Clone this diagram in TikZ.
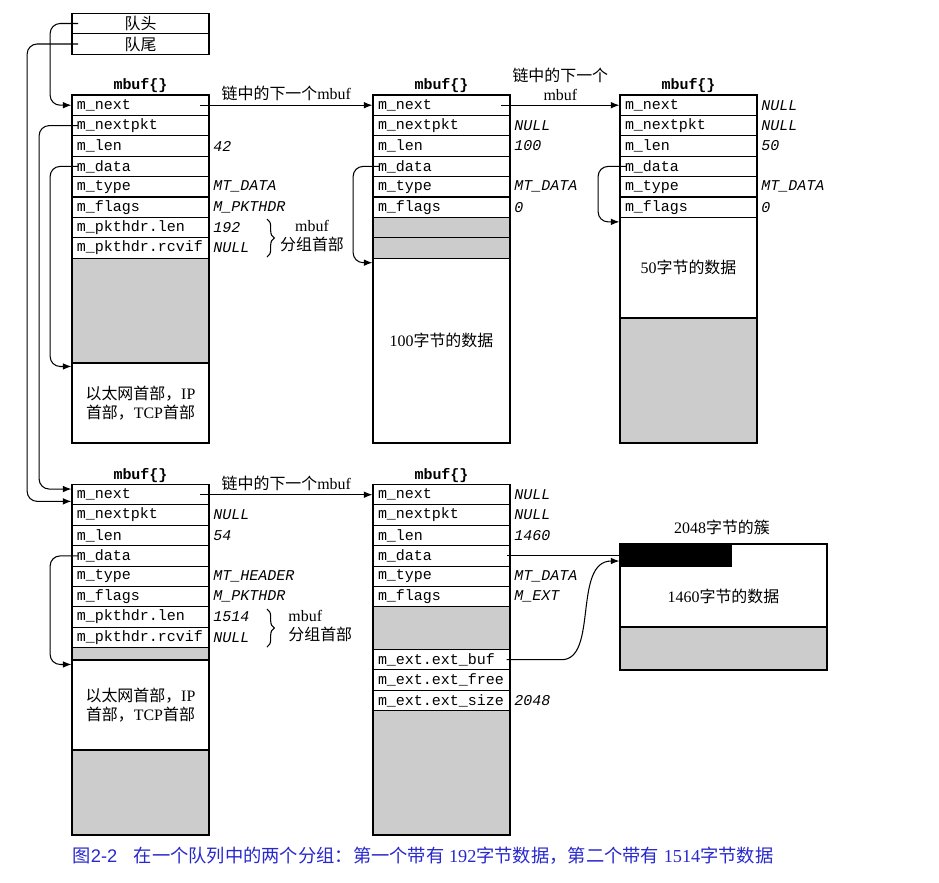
\documentclass[tikz,border=0pt]{standalone}
\usepackage{fontspec}
\setmainfont{Liberation Serif}
\setsansfont{Liberation Sans}
\setmonofont{Liberation Mono}
\newfontfamily\cjk{Noto Sans CJK SC}
\usetikzlibrary{arrows.meta,positioning,decorations.pathreplacing}
\definecolor{capblue}{RGB}{40,40,205}
\newcommand\zh[1]{{\cjk #1}}
\newcommand\fld{\ttfamily\fontsize{12.8}{14}\selectfont}

\begin{document}
\begin{tikzpicture}[x=0.03cm, y=-0.03cm, line width=0.9pt, font=\fontsize{13.6}{16.5}\selectfont]
    \tikzset{field/.style = {draw, minimum height=0.612cm, text width=3.81cm, inner xsep=0.15cm, inner ysep=0pt, align=left, font=\fld}}
    \tikzset{val/.style = {right=0pt of #1, inner xsep=0.1cm, font=\fld\itshape}}
    \tikzset{block/.style = {draw, minimum width=4.11cm, inner sep=0pt, align=center}}
    \tikzset{filler/.style = {block, fill=black!20}}
    \tikzset{structname/.style = {font=\fld\bfseries}}
    \tikzset{link/.style = {->, >={Latex[length=2.6mm, width=2mm]}, rounded corners=0.3cm}}
    \tikzset{hdrbrace/.style = {decorate, decoration={brace, amplitude=0.22cm}, line width=0.9pt}}
    \useasboundingbox (0,0) rectangle (939,882);

    \node[block, minimum height=0.615cm] (qh) at (140.5,23.5) {\zh{队头}};
    \node[block, minimum height=0.615cm] (qt) at (140.5,44) {\zh{队尾}};

    \node[structname] (ta) at (140.5,86) {mbuf\{\}};
    \node[field] (a1) at (140.5,105.2) {m\_next};
    \node[field] (a2) at (140.5,125.6) {m\_nextpkt};
    \node[field] (a3) at (140.5,146.0) {m\_len};
    \node[field] (a4) at (140.5,166.4) {m\_data};
    \node[field] (a5) at (140.5,186.8) {m\_type};
    \node[field] (a6) at (140.5,207.2) {m\_flags};
    \node[field] (a7) at (140.5,227.6) {m\_pkthdr.len};
    \node[field] (a8) at (140.5,248.0) {m\_pkthdr.rcvif};
    \node[filler, minimum height=3.144cm] (ag) at (140.5,310.6) {};
    \node[block, minimum height=2.4cm] (aw) at (140.5,403) {\zh{以太网首部，}IP\\\zh{首部，}TCP\zh{首部}};
    \node[val=a3] (a3v) {42};
    \node[val=a5] (a5v) {MT\_DATA};
    \node[val=a6] (a6v) {M\_PKTHDR};
    \node[val=a7] (a7v) {192};
    \node[val=a8] (a8v) {NULL};
    \draw[hdrbrace] (267,219) -- (267,257);
    \node[align=center] (ah) at (312,236) {mbuf\\\zh{分组首部}};

    \node[structname] (tb) at (441.5,86) {mbuf\{\}};
    \node[field] (b1) at (441.5,105.2) {m\_next};
    \node[field] (b2) at (441.5,125.6) {m\_nextpkt};
    \node[field] (b3) at (441.5,146.0) {m\_len};
    \node[field] (b4) at (441.5,166.4) {m\_data};
    \node[field] (b5) at (441.5,186.8) {m\_type};
    \node[field] (b6) at (441.5,207.2) {m\_flags};
    \node[field, fill=black!20] (b7) at (441.5,227.6) {};
    \node[field, fill=black!20] (b8) at (441.5,248.0) {};
    \node[block, minimum height=5.544cm] (bw) at (441.5,350.6) {};
    \node (bt) at (441.5,340) {100\zh{字节的数据}};
    \node[val=b2] (b2v) {NULL};
    \node[val=b3] (b3v) {100};
    \node[val=b5] (b5v) {MT\_DATA};
    \node[val=b6] (b6v) {0};

    \node[structname] (tc) at (688.5,86) {mbuf\{\}};
    \node[field] (c1) at (688.5,105.2) {m\_next};
    \node[field] (c2) at (688.5,125.6) {m\_nextpkt};
    \node[field] (c3) at (688.5,146.0) {m\_len};
    \node[field] (c4) at (688.5,166.4) {m\_data};
    \node[field] (c5) at (688.5,186.8) {m\_type};
    \node[field] (c6) at (688.5,207.2) {m\_flags};
    \node[block, minimum height=3.018cm] (cw) at (688.5,267.7) {50\zh{字节的数据}};
    \node[filler, minimum height=3.75cm] (cg) at (688.5,380.5) {};
    \node[val=c1] (c1v) {NULL};
    \node[val=c2] (c2v) {NULL};
    \node[val=c3] (c3v) {50};
    \node[val=c5] (c5v) {MT\_DATA};
    \node[val=c6] (c6v) {0};

    \node[structname] (td) at (140.5,476) {mbuf\{\}};
    \node[field] (d1) at (140.5,494.7) {m\_next};
    \node[field] (d2) at (140.5,515.1) {m\_nextpkt};
    \node[field] (d3) at (140.5,535.5) {m\_len};
    \node[field] (d4) at (140.5,555.9) {m\_data};
    \node[field] (d5) at (140.5,576.3) {m\_type};
    \node[field] (d6) at (140.5,596.7) {m\_flags};
    \node[field] (d7) at (140.5,617.1) {m\_pkthdr.len};
    \node[field] (d8) at (140.5,637.5) {m\_pkthdr.rcvif};
    \node[filler, minimum height=0.369cm] (dg) at (140.5,653.85) {};
    \node[block, minimum height=2.7cm] (dw) at (140.5,705) {\zh{以太网首部，}IP\\\zh{首部，}TCP\zh{首部}};
    \node[filler, minimum height=2.55cm] (dg2) at (140.5,792.5) {};
    \node[val=d2] (d2v) {NULL};
    \node[val=d3] (d3v) {54};
    \node[val=d5] (d5v) {MT\_HEADER};
    \node[val=d6] (d6v) {M\_PKTHDR};
    \node[val=d7] (d7v) {1514};
    \node[val=d8] (d8v) {NULL};
    \draw[hdrbrace] (267,609) -- (267,647);
    \node[align=left, anchor=west] (dh) at (284,626) {mbuf\\\zh{分组首部}};

    \node[structname] (te) at (441.5,476) {mbuf\{\}};
    \node[field] (e1) at (441.5,494.7) {m\_next};
    \node[field] (e2) at (441.5,515.1) {m\_nextpkt};
    \node[field] (e3) at (441.5,535.5) {m\_len};
    \node[field] (e4) at (441.5,555.9) {m\_data};
    \node[field] (e5) at (441.5,576.3) {m\_type};
    \node[field] (e6) at (441.5,596.7) {m\_flags};
    \node[filler, minimum height=1.278cm] (eg) at (441.5,628.2) {};
    \node[field] (e7) at (441.5,659.7) {m\_ext.ext\_buf};
    \node[field] (e8) at (441.5,680.1) {m\_ext.ext\_free};
    \node[field] (e9) at (441.5,700.5) {m\_ext.ext\_size};
    \node[filler, minimum height=3.729cm] (eg2) at (441.5,772.85) {};
    \node[val=e1] (e1v) {NULL};
    \node[val=e2] (e2v) {NULL};
    \node[val=e3] (e3v) {1460};
    \node[val=e5] (e5v) {MT\_DATA};
    \node[val=e6] (e6v) {M\_EXT};
    \node[val=e9] (e9v) {2048};

    \node (tk) at (722,527) {2048\zh{字节的簇}};
    \node[block, minimum width=6.21cm, minimum height=2.49cm] (kw) at (723.5,585.5) {};
    \node[block, minimum width=6.21cm, minimum height=1.29cm, fill=black!20] (kg) at (723.5,648.5) {};
    \draw ([xshift=-0.12cm]e4.east) -- (kw.west |- e4.east);
    \node[block, minimum width=3.33cm, minimum height=0.66cm, fill=black] (kb) at (675.5,555) {};
    \node (kt) at (723.5,596) {1460\zh{字节的数据}};

    \draw[link] ([xshift=-0.28cm]a1.east) -- node[above] {\zh{链中的下一个}mbuf} (b1.west);
    \draw[link] ([xshift=-0.28cm]b1.east) -- node[above, align=center] {\zh{链中的下一个}\\mbuf} (c1.west);
    \draw[link] ([xshift=-0.28cm]d1.east) -- node[above] {\zh{链中的下一个}mbuf} (e1.west);
    \draw[link] ([xshift=0.2cm]qh.west) -- ++(-28,0) |- (a1.west);
    \draw[link] ([xshift=0.2cm]qt.west) -- ++(-51,0) |- ([yshift=-0.2cm]d1.west);
    \draw[link] ([xshift=0.2cm]a2.west) -- ++(-39,0) |- ([yshift=0.17cm]d1.west);
    \draw[link] ([xshift=0.2cm]a4.west) -- ++(-28,0) |- ([yshift=-0.12cm]aw.north west);
    \draw[link] ([xshift=0.2cm]b4.west) -- ++(-26,0) |- ([yshift=-0.15cm]bw.north west);
    \draw[link] ([xshift=0.2cm]c4.west) -- ++(-28,0) |- ([yshift=-0.15cm]cw.north west);
    \draw[link] ([xshift=0.2cm]d4.west) -- ++(-28,0) |- ([yshift=-0.15cm]dw.north west);
    \draw[link] ([xshift=-0.12cm]e7.east) -- ++(45,0) to[out=0, in=180] ([yshift=-0.18cm]kb.west);

    \node[text=capblue, font=\fontsize{15.6}{18}\selectfont] (cap) at (423,856) {\zh{图}\textsf{2-2}\hspace{0.9em}\zh{在一个队列中的两个分组：第一个带有} 192\zh{字节数据，第二个带有} 1514\zh{字节数据}};
\end{tikzpicture}
\end{document}
